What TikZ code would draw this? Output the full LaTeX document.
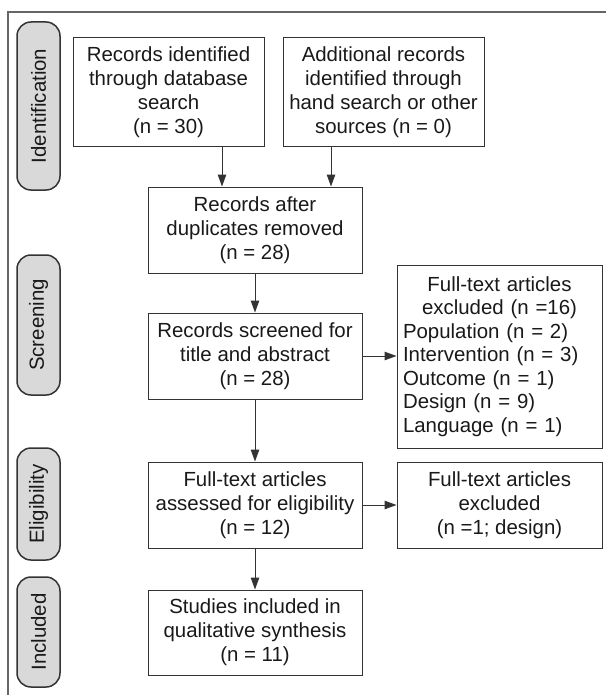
\documentclass[tikz,border=0pt]{standalone}
\usepackage{fontspec}
\setmainfont{Liberation Sans}
\usetikzlibrary{arrows.meta}
\definecolor{linec}{HTML}{333333}
\definecolor{pillfill}{HTML}{D9D9D9}
\definecolor{framec}{HTML}{666666}
\begin{document}
\begin{tikzpicture}[x=1bp,y=-1bp,
  box/.style={draw=linec, line width=1bp, align=center, text=black!90,
    font=\fontsize{20.5}{24}\selectfont, inner sep=0pt},
  pill/.style={draw=linec, fill=pillfill, line width=1.5bp, rounded corners=14bp,
    rotate=90, minimum height=43bp, text=black!90,
    font=\fontsize{20.5}{24}\selectfont, inner sep=0pt},
  arr/.style={-{Triangle[length=12bp,width=8.5bp]}, line width=1bp, draw=linec}]
\useasboundingbox (0,0) rectangle (606,695);
\draw[line width=1.3bp, framec] (606,12) -- (8,12) -- (8,695);

% phase labels
\node[pill, minimum width=168bp] (pid) at (38.5,106) {Identification};
\node[pill, minimum width=140bp] (psc) at (38.5,325) {Screening};
\node[pill, minimum width=112bp] (pel) at (38.5,504) {Eligibility};
\node[pill, minimum width=110bp] (pin) at (38.5,632) {Included};

% boxes
\node[box, minimum width=191bp, minimum height=108bp] (b1) at (168.5,92)
  {Records identified\\through database\\search\\(n = 30)};
\node[box, minimum width=201bp, minimum height=108bp] (b2) at (383.5,92)
  {Additional records\\identified through\\hand search or other\\sources (n = 0)};
\node[box, minimum width=214bp, minimum height=86bp] (b3) at (255,230)
  {Records after\\duplicates removed\\(n = 28)};
\node[box, minimum width=214bp, minimum height=86bp] (b4) at (255,356)
  {Records screened for\\title and abstract\\(n = 28)};
\node[box, minimum width=205bp, minimum height=183bp, text width=193bp, align=left,
  font=\fontsize{20.5}{23.5}\selectfont] (b5) at (499.5,356.5)
  {\makebox[\linewidth][c]{Full-text articles}\\
   \makebox[\linewidth][c]{excluded (n =16)}\\
   Population (n = 2)\\
   Intervention (n = 3)\\
   Outcome (n = 1)\\
   Design (n = 9)\\
   Language (n = 1)};
\node[box, minimum width=205bp, minimum height=86bp] (b6) at (255,505)
  [minimum width=214bp]
  {Full-text articles\\assessed for eligibility\\(n = 12)};
\node[box, minimum width=205bp, minimum height=86bp] (b7) at (499.5,505)
  {Full-text articles\\excluded\\(n =1; design)};
\node[box, minimum width=214bp, minimum height=85bp] (b8) at (255,632.5)
  {Studies included in\\qualitative synthesis\\(n = 11)};

% connectors
\draw[arr] ([xshift=53.5bp]b1.south) -- ([xshift=53.5bp]b1.south |- b3.north);
\draw[arr] ([xshift=-52.5bp]b2.south) -- ([xshift=-52.5bp]b2.south |- b3.north);
\draw[arr] (b3.south) -- (b4.north);
\draw[arr] (b4.east) -- (b4.east -| b5.west);
\draw[arr] (b4.south) -- (b6.north);
\draw[arr] (b6.east) -- (b6.east -| b7.west);
\draw[arr] (b6.south) -- (b8.north);
\end{tikzpicture}
\end{document}
